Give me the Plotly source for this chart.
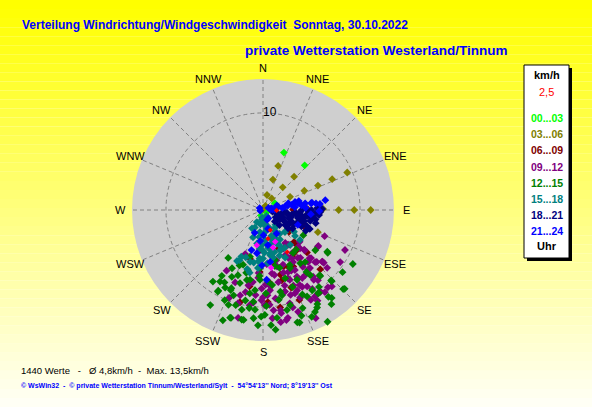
import math
import plotly.graph_objects as go

W, H = 592, 407

# compass directions
directions = ["N", "NNE", "NE", "ENE", "E", "ESE", "SE", "SSE",
              "S", "SSW", "SW", "WSW", "W", "WNW", "NW", "NNW"]
dir_angles = [i * 22.5 for i in range(16)]

# time buckets (Uhr) and colours
buckets = ["00...03", "03...06", "06...09", "09...12",
           "12...15", "15...18", "18...21", "21...24"]
colors = ["#00FF00", "#808000", "#800000", "#800080",
          "#008000", "#008080", "#000080", "#0000FF"]

# wind direction (deg) / speed (km/h) per bucket
theta_00 = [20, 43, 60, 100, 150, 200, 120, 80]
r_00 = [6.3, 6.3, 1.4, 0.5, 0.8, 0.6, 0.4, 0.9]

theta_03 = [19, 18, 15, 43, 41, 37, 65, 66, 66, 66, 64, 89, 90, 90, 90, 112, 0, 30, 80]
r_03 = [4.8, 3.3, 1.6, 4.7, 3.1, 1.5, 4.7, 6.2, 7.8, 9.5, 3.1, 6.2, 7.8, 9.4, 11.1, 6.1, 0.1, 0.5, 0.8]

theta_06 = [89, 89, 112, 136, 136, 152, 134, 165, 183, 177, 168, 153, 195, 100, 120,
            160, 145, 175, 190, 158, 170, 130, 148, 152, 160, 110, 156, 140,
            184, 165, 158, 194, 136]
r_06 = [4.6, 3.1, 4.6, 4.6, 4.75, 6.6, 6.3, 6.9, 6.4, 9.5, 5.8, 7.9, 5.2, 2.0, 3.0,
        8.5, 5.5, 7.5, 8.0, 4.3, 10.2, 3.5, 5.65, 6.6, 6.2, 4.5, 6.4, 5.4,
        4.1, 7.5, 10.0, 9.8, 8.5]

theta_09 = [211, 202, 123, 131, 149, 154, 201, 195, 179, 174, 170, 164, 157, 150, 144,
            145, 150, 154, 165, 172, 168, 160, 153, 157, 165, 172, 177, 181, 184, 188,
            192, 193, 171, 167, 140, 145, 134, 131, 136, 134, 137, 146, 144, 146,
            113, 124, 134, 136, 144, 139, 135, 135, 131, 132, 143, 150, 143, 138,
            153, 159, 159, 165, 145, 149, 152, 152, 142, 131, 162, 175, 180, 186,
            158, 166, 170, 176, 148, 155, 163,
            175, 170.5, 164, 152, 147, 154, 162, 170, 176, 181, 185, 188, 170, 160,
            149, 141, 142, 143, 152, 161, 168, 175, 178, 184, 191, 195, 201, 116,
            124, 142, 158]
r_09 = [7.3, 4.9, 6.8, 8.3, 10.9, 12.4, 9.7, 9.95, 9.8, 10.4, 10.8, 10.0, 9.8, 9.1, 8.9,
        7.15, 6.2, 5.2, 5.35, 6.6, 7.6, 7.5, 7.7, 9.0, 8.7, 9.2, 8.8, 8.1, 6.5, 7.5,
        8.65, 11.4, 11.7, 11.4, 10.4, 10.3, 7.7, 8.1, 6.9, 6.0, 5.25, 5.35, 4.4, 4.1,
        6.9, 6.8, 5.9, 5.5, 6.1, 7.1, 7.0, 7.6, 8.1, 8.9, 7.7, 8.1, 8.6, 10.6,
        8.9, 7.7, 9.2, 8.7, 10.3, 10.4, 5.6, 4.5, 4.55, 5.0, 6.8, 7.8, 9.0, 9.6,
        8.4, 6.0, 4.8, 5.6, 9.6, 6.9, 10.5,
        8.3, 9.4, 8.1, 7.0, 8.0, 8.6, 9.2, 10.5, 9.8, 9.3, 8.8, 9.9, 6.8, 6.0,
        5.8, 7.7, 9.2, 10.6, 10.5, 11.1, 11.6, 11.2, 7.7, 7.0, 7.9, 9.1, 8.0, 9.4,
        9.6, 6.25, 6.9]

theta_12 = [208, 209, 202, 199, 197.5, 200, 195, 189, 186, 192, 196.5, 190, 185, 181,
            176, 172.6, 166.5, 163, 155.5, 151, 146.5, 144, 139, 123.5, 167.4, 159,
            173, 182.5, 185.7, 145, 145, 164, 162, 195.5, 203, 197, 191, 209, 150,
            160, 150, 143, 136, 134.6, 128, 121, 123, 122, 139, 136, 134, 142, 144,
            146, 145, 140, 155, 154, 153, 205, 212, 215, 188, 178, 170, 158, 183,
            193, 200, 206, 178, 168,
            203, 196, 191, 202, 211, 201, 194, 184.6, 179, 182.5, 174, 164, 155,
            148.5, 168, 176, 183, 190.5, 166.5, 154, 141, 127.6, 208, 216, 200, 209,
            162, 153, 144]
r_12 = [8.45, 9.5, 8.7, 9.3, 7.9, 6.0, 6.7, 8.7, 9.5, 10.5, 11.6, 11.5, 11.2, 11.0,
        11.9, 11.2, 10.6, 12.1, 12.1, 11.5, 10.3, 8.3, 8.9, 8.0, 9.0, 8.5,
        7.8, 7.2, 8.3, 6.7, 7.8, 6.2, 7.4, 5.0, 6.2, 11.6, 11.5, 9.6, 13.3,
        11.6, 11.2, 11.2, 10.1, 11.6, 10.4, 10.8, 7.9, 4.9, 9.0, 10.2, 11.7, 11.5, 9.8,
        10.3, 5.4, 5.3, 6.6, 8.0, 10.0, 7.6, 8.0, 9.0, 10.2, 9.9, 9.4, 10.9, 6.8,
        7.4, 10.4, 8.9, 8.6, 5.9,
        10.1, 10.2, 9.5, 8.9, 8.6, 7.2, 6.4, 10.3, 10.8, 11.9, 12.4, 10.2, 9.6,
        9.7, 8.6, 7.4, 6.0, 7.3, 5.3, 6.3, 6.9, 6.8, 6.8, 6.1, 12.1, 11.2,
        12.2, 11.8, 12.0]

theta_15 = [185, 175, 170, 180, 165, 160, 175, 190, 185, 170, 165, 155, 150, 160, 180,
            170, 207, 190, 175, 155, 150, 145, 125, 200, 205, 190, 170, 160, 150, 185,
            195, 180, 178, 168, 200, 188, 172, 140, 135, 185, 182, 205, 162, 192,
            207, 172, 146, 135, 129, 129, 142, 157, 171, 184, 194, 205, 165, 158,
            176, 157, 188, 160, 172, 155, 211, 150, 187]
r_15 = [1.0, 1.5, 2.0, 2.5, 3.0, 3.0, 3.5, 3.5, 4.0, 4.0, 3.5, 4.5, 4.5, 5.0, 5.0,
        4.5, 5.9, 5.5, 5.5, 4.0, 3.5, 3.0, 3.9, 3.0, 2.0, 1.5, 1.5, 2.0, 2.5, 6.0,
        6.3, 4.2, 4.4, 5.0, 5.2, 2.8, 2.2, 2.0, 3.2, 5.3, 3.6, 5.3, 2.8, 6.6,
        1.4, 1.56, 2.2, 3.2, 4.25, 4.9, 4.55, 4.5, 4.7, 5.0, 5.5, 5.7, 4.5, 3.7,
        3.1, 3.1, 2.3, 3.2, 3.95, 5.4, 2.2, 0.7, 0.8]

theta_18 = [94, 96.5, 103, 112, 124, 132.5, 88, 92, 90, 95, 101, 110, 92, 89, 134,
            101.6, 112, 99.7, 126, 100, 105, 110, 108, 96, 98, 108, 115, 118, 93, 90,
            96, 103, 110, 97, 120, 128,
            99, 97, 104, 107, 100, 95, 113, 121, 117, 106, 102, 94, 98, 105, 112, 116,
            122, 93, 99, 104]
r_18 = [5.4, 4.5, 3.7, 3.2, 2.75, 2.3, 5.6, 4.7, 4.0, 3.3, 2.65, 2.05, 5.9, 6.1, 1.7,
        4.25, 3.7, 5.1, 3.2, 1.0, 1.5, 2.2, 2.8, 3.5, 4.0, 4.2, 3.5, 2.5, 4.9, 5.0,
        5.2, 5.0, 4.8, 2.5, 1.5, 1.8,
        3.0, 3.4, 3.0, 4.0, 5.5, 5.8, 4.3, 3.0, 2.0, 1.8, 1.4, 3.8, 4.6, 4.4, 5.2, 4.9,
        3.6, 2.2, 2.0, 5.6]

theta_21 = [81.5, 81, 91, 95, 81, 79, 80, 81, 78, 79, 147, 157, 85, 84, 75, 72, 83, 70,
            88, 85, 80, 76, 82, 84, 172, 196, 181, 177, 188, 172, 179, 150, 113, 165,
            200, 185, 86, 255, 300, 83, 87, 76]
r_21 = [5.1, 6.5, 5.8, 4.95, 4.4, 3.7, 3.0, 2.3, 1.6, 0.9, 1.0, 1.1, 3.3, 2.0, 2.7, 1.5,
        4.0, 0.6, 1.2, 0.8, 2.6, 3.8, 5.0, 5.9, 3.65, 4.3, 5.7, 7.2, 4.5, 5.4, 2.6, 2.8,
        3.9, 2.0, 2.5, 3.2, 1.0, 0.3, 0.4, 5.5, 4.4, 3.4]

bucket_theta = [theta_00, theta_03, theta_06, theta_09, theta_12, theta_15, theta_18, theta_21]
bucket_r = [r_00, r_03, r_06, r_09, r_12, r_15, r_18, r_21]

# a few extra marks (red / magenta)
theta_red = [160, 92, 150, 170]
r_red = [2.2, 1.4, 5.0, 3.0]
theta_mag = [190, 159, 172, 165]
r_mag = [3.7, 3.5, 6.0, 4.0]

title_1 = "Verteilung Windrichtung/Windgeschwindigkeit  Sonntag, 30.10.2022"
title_2 = "private Wetterstation Westerland/Tinnum"
stats = "1440 Werte   -   Ø 4,8km/h  -  Max. 13,5km/h"
footer = "© WsWin32  -  © private Wetterstation Tinnum/Westerland/Sylt  -  54°54'13'' Nord; 8°19'13'' Ost"

FONT = "Liberation Sans, Arial"
NARROW = "Liberation Sans Narrow, Liberation Sans, Arial"

# disk centre and radius in pixels
CX, CY, RAD = 263, 210, 131


def px(x):
    return x / W


def py(y):
    return 1 - y / H


fig = go.Figure()

for th, rr, c in zip(bucket_theta, bucket_r, colors):
    fig.add_trace(go.Scatterpolar(theta=th, r=rr, mode="markers",
                                  marker=dict(symbol="diamond", size=6, color=c),
                                  showlegend=False, hoverinfo="skip"))
fig.add_trace(go.Scatterpolar(theta=theta_red, r=r_red, mode="markers",
                              marker=dict(symbol="diamond", size=4, color="#FF0000"),
                              showlegend=False))
fig.add_trace(go.Scatterpolar(theta=theta_mag, r=r_mag, mode="markers",
                              marker=dict(symbol="diamond", size=5, color="#FF00FF"),
                              showlegend=False))
fig.add_trace(go.Scatterpolar(theta=[0], r=[10], mode="text", text=["10"],
                              textposition="middle right", cliponaxis=False,
                              textfont=dict(family=FONT, size=12, color="black"),
                              showlegend=False))

fig.update_layout(
    width=W, height=H,
    margin=dict(l=0, r=0, t=0, b=0),
    paper_bgcolor="#FFFFF0",
    polar=dict(
        domain=dict(x=[px(CX - RAD), px(CX + RAD)], y=[py(CY + RAD), py(CY - RAD)]),
        bgcolor="#CFCFCF",
        radialaxis=dict(range=[0, 13.5], tickvals=[10], showticklabels=False, ticks="",
                        showline=False, gridcolor="#808080", griddash="4px,3px", gridwidth=1.3),
        angularaxis=dict(rotation=90, direction="clockwise", tickvals=dir_angles,
                         showticklabels=False, ticks="", showline=False,
                         gridcolor="#808080", griddash="4px,3px", gridwidth=1.3),
    ),
)

# yellow gradient background
shapes = []
n_bands = 45
for i in range(n_bands):
    t = i / (n_bands - 1)
    b = int(245 * t)
    shapes.append(dict(type="rect", xref="paper", yref="paper", x0=0, x1=1,
                       y0=1 - (i + 1) / n_bands, y1=1 - i / n_bands,
                       fillcolor="rgb(255,255,%d)" % b, line=dict(width=0), layer="below"))

# legend box with shadow
shapes.append(dict(type="rect", xref="paper", yref="paper", x0=px(527), x1=px(572),
                   y0=py(261), y1=py(68), fillcolor="black", line=dict(width=0)))
shapes.append(dict(type="rect", xref="paper", yref="paper", x0=px(524), x1=px(569),
                   y0=py(258), y1=py(65), fillcolor="white", line=dict(color="black", width=1)))
fig.update_layout(shapes=shapes)

ann = []
ann.append(dict(text="<b>" + title_1 + "</b>", x=px(20), y=py(25), xanchor="left", yanchor="middle",
                font=dict(family=NARROW, size=12, color="#0000FF")))
ann.append(dict(text="<b>" + title_2 + "</b>", x=px(243), y=py(50), xanchor="left", yanchor="middle",
                font=dict(family=NARROW, size=13.5, color="#0000FF")))
ann.append(dict(text=stats, x=px(19), y=py(370), xanchor="left", yanchor="middle",
                font=dict(family=NARROW, size=9.5, color="black")))
ann.append(dict(text="<b>" + footer + "</b>", x=px(19), y=py(386), xanchor="left", yanchor="middle",
                font=dict(family=NARROW, size=7, color="#0000FF")))

# compass labels around the disk
for name, a in zip(directions, dir_angles):
    rad = math.radians(a)
    ann.append(dict(text=name, x=px(CX + 143 * math.sin(rad)), y=py(CY - 142 * math.cos(rad)),
                    xanchor="center", yanchor="middle",
                    font=dict(family=FONT, size=11, color="black")))

lx = px(546.5)
ann.append(dict(text="<b>km/h</b>", x=lx, y=py(75), xanchor="center", yanchor="middle",
                font=dict(family=NARROW, size=11, color="black")))
ann.append(dict(text="2,5", x=lx, y=py(92), xanchor="center", yanchor="middle",
                font=dict(family=NARROW, size=11, color="#FF0000")))
for i, (lab, c) in enumerate(zip(buckets, colors)):
    ann.append(dict(text="<b>" + lab + "</b>", x=lx, y=py(118 + i * 16.2), xanchor="center",
                    yanchor="middle", font=dict(family=NARROW, size=10.5, color=c)))
ann.append(dict(text="<b>Uhr</b>", x=lx, y=py(246), xanchor="center", yanchor="middle",
                font=dict(family=NARROW, size=11, color="black")))
for a in ann:
    a.update(xref="paper", yref="paper", showarrow=False)
fig.update_layout(annotations=ann)

fig.write_html("out.html", config={"displayModeBar": False},
               post_script="document.body.style.margin='0';")
